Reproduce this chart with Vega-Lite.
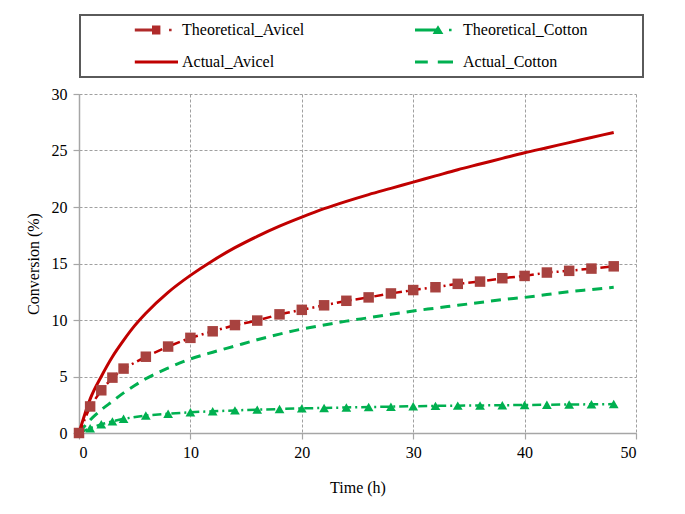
{
  "$schema": "https://vega.github.io/schema/vega-lite/v6.json",
  "width": 557,
  "height": 339,
  "autosize": {"type": "none"},
  "padding": {"left": 79, "top": 94, "right": 49, "bottom": 81},
  "background": "white",
  "data": {
    "values": [
      {"Series": "Theoretical_Avicel", "Time": 0, "Conversion": 0},
      {"Series": "Theoretical_Avicel", "Time": 1, "Conversion": 2.35},
      {"Series": "Theoretical_Avicel", "Time": 2, "Conversion": 3.78},
      {"Series": "Theoretical_Avicel", "Time": 3, "Conversion": 4.9},
      {"Series": "Theoretical_Avicel", "Time": 4, "Conversion": 5.7},
      {"Series": "Theoretical_Avicel", "Time": 6, "Conversion": 6.75},
      {"Series": "Theoretical_Avicel", "Time": 8, "Conversion": 7.65},
      {"Series": "Theoretical_Avicel", "Time": 10, "Conversion": 8.42},
      {"Series": "Theoretical_Avicel", "Time": 12, "Conversion": 9.0},
      {"Series": "Theoretical_Avicel", "Time": 14, "Conversion": 9.55},
      {"Series": "Theoretical_Avicel", "Time": 16, "Conversion": 9.95},
      {"Series": "Theoretical_Avicel", "Time": 18, "Conversion": 10.5},
      {"Series": "Theoretical_Avicel", "Time": 20, "Conversion": 10.9},
      {"Series": "Theoretical_Avicel", "Time": 22, "Conversion": 11.3},
      {"Series": "Theoretical_Avicel", "Time": 24, "Conversion": 11.7},
      {"Series": "Theoretical_Avicel", "Time": 26, "Conversion": 12.0},
      {"Series": "Theoretical_Avicel", "Time": 28, "Conversion": 12.35},
      {"Series": "Theoretical_Avicel", "Time": 30, "Conversion": 12.65},
      {"Series": "Theoretical_Avicel", "Time": 32, "Conversion": 12.9},
      {"Series": "Theoretical_Avicel", "Time": 34, "Conversion": 13.2},
      {"Series": "Theoretical_Avicel", "Time": 36, "Conversion": 13.4},
      {"Series": "Theoretical_Avicel", "Time": 38, "Conversion": 13.7},
      {"Series": "Theoretical_Avicel", "Time": 40, "Conversion": 13.9},
      {"Series": "Theoretical_Avicel", "Time": 42, "Conversion": 14.2},
      {"Series": "Theoretical_Avicel", "Time": 44, "Conversion": 14.35},
      {"Series": "Theoretical_Avicel", "Time": 46, "Conversion": 14.55},
      {"Series": "Theoretical_Avicel", "Time": 48, "Conversion": 14.75},
      {"Series": "Theoretical_Cotton", "Time": 0, "Conversion": 0},
      {"Series": "Theoretical_Cotton", "Time": 1, "Conversion": 0.42},
      {"Series": "Theoretical_Cotton", "Time": 2, "Conversion": 0.78},
      {"Series": "Theoretical_Cotton", "Time": 3, "Conversion": 1.03},
      {"Series": "Theoretical_Cotton", "Time": 4, "Conversion": 1.26},
      {"Series": "Theoretical_Cotton", "Time": 6, "Conversion": 1.55},
      {"Series": "Theoretical_Cotton", "Time": 8, "Conversion": 1.7},
      {"Series": "Theoretical_Cotton", "Time": 10, "Conversion": 1.84},
      {"Series": "Theoretical_Cotton", "Time": 12, "Conversion": 1.92},
      {"Series": "Theoretical_Cotton", "Time": 14, "Conversion": 2.0},
      {"Series": "Theoretical_Cotton", "Time": 16, "Conversion": 2.07},
      {"Series": "Theoretical_Cotton", "Time": 18, "Conversion": 2.12},
      {"Series": "Theoretical_Cotton", "Time": 20, "Conversion": 2.18},
      {"Series": "Theoretical_Cotton", "Time": 22, "Conversion": 2.22},
      {"Series": "Theoretical_Cotton", "Time": 24, "Conversion": 2.26},
      {"Series": "Theoretical_Cotton", "Time": 26, "Conversion": 2.3},
      {"Series": "Theoretical_Cotton", "Time": 28, "Conversion": 2.33},
      {"Series": "Theoretical_Cotton", "Time": 30, "Conversion": 2.37},
      {"Series": "Theoretical_Cotton", "Time": 32, "Conversion": 2.4},
      {"Series": "Theoretical_Cotton", "Time": 34, "Conversion": 2.42},
      {"Series": "Theoretical_Cotton", "Time": 36, "Conversion": 2.44},
      {"Series": "Theoretical_Cotton", "Time": 38, "Conversion": 2.46},
      {"Series": "Theoretical_Cotton", "Time": 40, "Conversion": 2.48},
      {"Series": "Theoretical_Cotton", "Time": 42, "Conversion": 2.5},
      {"Series": "Theoretical_Cotton", "Time": 44, "Conversion": 2.52},
      {"Series": "Theoretical_Cotton", "Time": 46, "Conversion": 2.54},
      {"Series": "Theoretical_Cotton", "Time": 48, "Conversion": 2.56},
      {"Series": "Actual_Avicel", "Time": 0, "Conversion": 0},
      {"Series": "Actual_Avicel", "Time": 0.5, "Conversion": 1.6},
      {"Series": "Actual_Avicel", "Time": 1, "Conversion": 3.0},
      {"Series": "Actual_Avicel", "Time": 2, "Conversion": 5.0},
      {"Series": "Actual_Avicel", "Time": 3, "Conversion": 6.75},
      {"Series": "Actual_Avicel", "Time": 4, "Conversion": 8.2},
      {"Series": "Actual_Avicel", "Time": 5, "Conversion": 9.5},
      {"Series": "Actual_Avicel", "Time": 6, "Conversion": 10.6},
      {"Series": "Actual_Avicel", "Time": 8, "Conversion": 12.45},
      {"Series": "Actual_Avicel", "Time": 10, "Conversion": 13.95},
      {"Series": "Actual_Avicel", "Time": 12, "Conversion": 15.25},
      {"Series": "Actual_Avicel", "Time": 14, "Conversion": 16.4},
      {"Series": "Actual_Avicel", "Time": 16, "Conversion": 17.4},
      {"Series": "Actual_Avicel", "Time": 18, "Conversion": 18.3},
      {"Series": "Actual_Avicel", "Time": 20, "Conversion": 19.1},
      {"Series": "Actual_Avicel", "Time": 22, "Conversion": 19.85},
      {"Series": "Actual_Avicel", "Time": 24, "Conversion": 20.5},
      {"Series": "Actual_Avicel", "Time": 26, "Conversion": 21.1},
      {"Series": "Actual_Avicel", "Time": 28, "Conversion": 21.65},
      {"Series": "Actual_Avicel", "Time": 30, "Conversion": 22.2},
      {"Series": "Actual_Avicel", "Time": 32, "Conversion": 22.75},
      {"Series": "Actual_Avicel", "Time": 34, "Conversion": 23.3},
      {"Series": "Actual_Avicel", "Time": 36, "Conversion": 23.8},
      {"Series": "Actual_Avicel", "Time": 38, "Conversion": 24.3},
      {"Series": "Actual_Avicel", "Time": 40, "Conversion": 24.8},
      {"Series": "Actual_Avicel", "Time": 42, "Conversion": 25.25},
      {"Series": "Actual_Avicel", "Time": 44, "Conversion": 25.7},
      {"Series": "Actual_Avicel", "Time": 46, "Conversion": 26.15},
      {"Series": "Actual_Avicel", "Time": 48, "Conversion": 26.6},
      {"Series": "Actual_Cotton", "Time": 0, "Conversion": 0},
      {"Series": "Actual_Cotton", "Time": 1, "Conversion": 1.15},
      {"Series": "Actual_Cotton", "Time": 2, "Conversion": 2.05},
      {"Series": "Actual_Cotton", "Time": 3, "Conversion": 2.8},
      {"Series": "Actual_Cotton", "Time": 4, "Conversion": 3.55},
      {"Series": "Actual_Cotton", "Time": 5, "Conversion": 4.2},
      {"Series": "Actual_Cotton", "Time": 6, "Conversion": 4.8},
      {"Series": "Actual_Cotton", "Time": 8, "Conversion": 5.75},
      {"Series": "Actual_Cotton", "Time": 10, "Conversion": 6.55},
      {"Series": "Actual_Cotton", "Time": 12, "Conversion": 7.15},
      {"Series": "Actual_Cotton", "Time": 14, "Conversion": 7.7},
      {"Series": "Actual_Cotton", "Time": 16, "Conversion": 8.25},
      {"Series": "Actual_Cotton", "Time": 18, "Conversion": 8.75},
      {"Series": "Actual_Cotton", "Time": 20, "Conversion": 9.2},
      {"Series": "Actual_Cotton", "Time": 22, "Conversion": 9.55},
      {"Series": "Actual_Cotton", "Time": 24, "Conversion": 9.9},
      {"Series": "Actual_Cotton", "Time": 26, "Conversion": 10.2},
      {"Series": "Actual_Cotton", "Time": 28, "Conversion": 10.5},
      {"Series": "Actual_Cotton", "Time": 30, "Conversion": 10.8},
      {"Series": "Actual_Cotton", "Time": 32, "Conversion": 11.05},
      {"Series": "Actual_Cotton", "Time": 34, "Conversion": 11.3},
      {"Series": "Actual_Cotton", "Time": 36, "Conversion": 11.55},
      {"Series": "Actual_Cotton", "Time": 38, "Conversion": 11.8},
      {"Series": "Actual_Cotton", "Time": 40, "Conversion": 12.0},
      {"Series": "Actual_Cotton", "Time": 42, "Conversion": 12.25},
      {"Series": "Actual_Cotton", "Time": 44, "Conversion": 12.5},
      {"Series": "Actual_Cotton", "Time": 46, "Conversion": 12.7},
      {"Series": "Actual_Cotton", "Time": 48, "Conversion": 12.9}
    ]
  },
  "encoding": {
    "x": {
      "field": "Time", "type": "quantitative",
      "scale": {"domain": [0, 50], "nice": false, "zero": false},
      "axis": {"values": [0, 10, 20, 30, 40, 50], "title": "Time (h)", "labelPadding": 5, "titlePadding": 19, "grid": true}
    },
    "y": {
      "field": "Conversion", "type": "quantitative",
      "scale": {"domain": [0, 30], "nice": false},
      "axis": {"values": [0, 5, 10, 15, 20, 25, 30], "title": "Conversion (%)", "labelPadding": 6, "titlePadding": 10, "grid": true}
    }
  },
  "layer": [
    {
      "transform": [{"filter": "datum.Series === 'Actual_Cotton'"}],
      "mark": {"type": "line", "color": "#00B050", "strokeWidth": 3, "strokeDash": [10, 7], "interpolate": "monotone"}
    },
    {
      "transform": [{"filter": "datum.Series === 'Actual_Avicel'"}],
      "mark": {"type": "line", "color": "#C00000", "strokeWidth": 3, "interpolate": "monotone"}
    },
    {
      "transform": [{"filter": "datum.Series === 'Theoretical_Cotton'"}],
      "mark": {"type": "line", "color": "#00B050", "strokeWidth": 2.5, "strokeDash": [9, 4, 2, 4]}
    },
    {
      "transform": [{"filter": "datum.Series === 'Theoretical_Cotton'"}],
      "mark": {"type": "point", "shape": "triangle-up", "filled": true, "color": "#00B050", "opacity": 1, "size": 95}
    },
    {
      "transform": [{"filter": "datum.Series === 'Theoretical_Avicel'"}],
      "mark": {"type": "line", "color": "#C00000", "strokeWidth": 2.5, "strokeDash": [9, 4, 2, 4]}
    },
    {
      "transform": [{"filter": "datum.Series === 'Theoretical_Avicel'"}],
      "mark": {"type": "point", "shape": "square", "filled": true, "color": "#A8423F", "opacity": 1, "size": 110}
    },
    {
      "mark": {"type": "point", "filled": true, "size": 0},
      "encoding": {
        "color": {
          "field": "Series", "type": "nominal",
          "scale": {
            "domain": ["Theoretical_Avicel", "Actual_Avicel", "Theoretical_Cotton", "Actual_Cotton"],
            "range": ["#B02A2A", "#C00000", "#00B050", "#00B050"]
          },
          "legend": {
            "title": " ",
            "titleOrient": "left",
            "titleFontSize": 1,
            "titlePadding": 75,
            "orient": "none",
            "legendX": 1,
            "legendY": -79,
            "columns": 2,
            "columnPadding": 110,
            "rowPadding": 16,
            "padding": 7,
            "symbolSize": 256,
            "symbolStrokeWidth": 0,
            "labelLimit": 400,
            "labelExpr": "indexof(datum.label, 'Cotton') >= 0 ? datum.label + '            \u200b' : datum.label"
          }
        },
        "shape": {
          "field": "Series", "type": "nominal",
          "scale": {
            "domain": ["Theoretical_Avicel", "Actual_Avicel", "Theoretical_Cotton", "Actual_Cotton"],
            "range": [
              "M-4.4,-0.18H-2V0.18H-4.4Z M-2.25,-0.56H-1.2V0.56H-2.25Z M-0.12,-0.16H0.2V0.16H-0.12Z",
              "M-4.4,-0.18H1V0.18H-4.4Z",
              "M-4.5,-0.18H-1.6V0.18H-4.5Z M-2.3,0.5L-1.625,-0.6L-0.95,0.5Z M-0.25,-0.16H0.07V0.16H-0.25Z",
              "M-4.5,-0.18H-2.9V0.18H-4.5Z M-1.65,-0.18H0.25V0.18H-1.65Z"
            ]
          },
          "legend": {
            "title": " ",
            "titleOrient": "left",
            "titleFontSize": 1,
            "titlePadding": 75,
            "orient": "none",
            "legendX": 1,
            "legendY": -79,
            "columns": 2,
            "columnPadding": 110,
            "rowPadding": 16,
            "padding": 7,
            "symbolSize": 256,
            "symbolStrokeWidth": 0,
            "labelLimit": 400,
            "labelExpr": "indexof(datum.label, 'Cotton') >= 0 ? datum.label + '            \u200b' : datum.label"
          }
        }
      }
    }
  ],
  "config": {
    "font": "Liberation Serif",
    "view": {"stroke": null},
    "axis": {
      "labelFont": "Liberation Serif", "labelFontSize": 16, "labelColor": "#000000",
      "titleFont": "Liberation Serif", "titleFontSize": 16, "titleFontWeight": "normal", "titleColor": "#000000",
      "domainColor": "#A6A6A6", "domainWidth": 1.5,
      "tickColor": "#A6A6A6", "tickSize": 6, "tickWidth": 1.2,
      "gridColor": "#A0A0A0", "gridDash": [3, 2], "gridWidth": 1
    },
    "legend": {
      "labelFont": "Liberation Serif", "labelFontSize": 16, "labelColor": "#000000",
      "strokeColor": "#5A5A5A", "strokeWidth": 2, "fillColor": "white",
      "symbolOpacity": 1
    }
  }
}
